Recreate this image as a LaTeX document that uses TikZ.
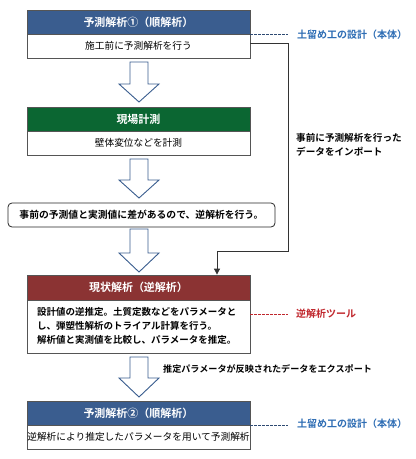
\documentclass[tikz,border=0pt]{standalone}
\usepackage{fontspec}
\setmainfont{Noto Sans CJK JP}[BoldFont={Noto Sans CJK JP Bold}]
\usetikzlibrary{arrows.meta}
\definecolor{hblue}{HTML}{3A5D8F}
\definecolor{hgreen}{HTML}{0B6632}
\definecolor{hred}{HTML}{8B3333}
\definecolor{lblue}{HTML}{2E6DB4}
\definecolor{lred}{HTML}{C0272D}
\definecolor{bordergray}{HTML}{555555}
\tikzset{
  header/.style={draw=bordergray, line width=0.8pt, minimum width=223pt, inner sep=0pt, text=white, font=\fontsize{11}{13}\selectfont\bfseries},
  bodybox/.style={draw=bordergray, line width=0.8pt, fill=white, minimum width=223pt, inner sep=0pt, font=\fontsize{9.7}{12}\selectfont},
  sidelabel/.style={anchor=west, inner sep=0pt, font=\fontsize{10}{12}\selectfont\bfseries},
  hollow/.style={draw=hblue, fill=white, line width=0.9pt, line join=miter},
  link/.style={draw=black!80, line width=0.8pt},
}
\newcommand{\bigdownarrow}[4]{% x, top, headstart, tip
  \draw[hollow] (#1-9,#2) -- (#1+9,#2) -- (#1+9,#3) -- (#1+20,#3) -- (#1,#4) -- (#1-20,#3) -- (#1-9,#3) -- cycle;}
\begin{document}
\begin{tikzpicture}[x=1pt,y=-1pt]
\useasboundingbox (0,0) rectangle (416,459);
% arrows
\bigdownarrow{139}{62}{84}{102}
\bigdownarrow{139}{159}{180}{198}
\bigdownarrow{139}{229}{253}{272}
\bigdownarrow{139}{357}{378}{397}
% box 1
\node[header, fill=hblue, minimum height=24pt] (h1) at (138.5,22) {予測解析①（順解析）};
\node[bodybox, minimum height=24pt] (b1) at (138.5,46) {施工前に予測解析を行う};
% box 2
\node[header, fill=hgreen, minimum height=24pt] (h2) at (138.5,119) {現場計測};
\node[bodybox, minimum height=24pt] (b2) at (138.5,143) {壁体変位などを計測};
% rounded box
\node[draw=black!85, line width=0.8pt, rounded corners=4pt, minimum width=267pt, minimum height=24pt, inner sep=0pt, fill=white, font=\fontsize{9.8}{12}\selectfont\bfseries] (r) at (141.5,215) {事前の予測値と実測値に差があるので、逆解析を行う。};
% box 3
\node[header, fill=hred, minimum height=25pt] (h3) at (138.5,287.5) {現状解析（逆解析）};
\node[bodybox, minimum height=53pt] (b3) at (138.5,326.5) {};
\node[anchor=west, inner sep=0pt, align=left, font=\fontsize{9.5}{14}\selectfont\bfseries] (t3) at (37,326) {設計値の逆推定。土質定数などをパラメータと\\し、弾塑性解析のトライアル計算を行う。\\解析値と実測値を比較し、パラメータを推定。};
% box 4
\node[header, fill=hblue, minimum height=24pt] (h4) at (138.5,413) {予測解析②（順解析）};
\node[bodybox, minimum height=24pt] (b4) at (138.5,437) {逆解析により推定したパラメータを用いて予測解析};
% side labels
\node[sidelabel, text=lblue] (s1) at (297,35) {土留め工の設計（本体）};
\node[sidelabel, text=lred] (s3) at (296,314) {逆解析ツール};
\node[sidelabel, text=lblue] (s4) at (297,424) {土留め工の設計（本体）};
\draw[dashed, dash pattern=on 2.5pt off 1.5pt, draw=hblue!80!black, line width=0.8pt] (h1.south east) -- ++(38,0) coordinate (d1);
\draw[dashed, dash pattern=on 2.5pt off 1.5pt, draw=lred, line width=0.8pt] (b3.east |- s3) -- ++(38,0) coordinate (d3);
\draw[dashed, dash pattern=on 2.5pt off 1.5pt, draw=hblue!80!black, line width=0.8pt] (h4.south east) -- ++(38,0) coordinate (d4);
% import connector
\node[anchor=west, inner sep=0pt, align=left, font=\fontsize{9.6}{14}\selectfont\bfseries] (imp) at (296,145) {事前に予測解析を行った\\データをインポート};
\coordinate (c1) at (288,43);
\coordinate (c2) at (288,251);
\coordinate (c3) at (217,251);
\draw[link, -{Triangle[length=6pt,width=6pt]}] (b1.east |- c1) -- (c1) -- (c2) -- (c3) -- (c3 |- h3.north);
% export label
\node[anchor=west, inner sep=0pt, font=\fontsize{9.1}{12}\selectfont\bfseries] (exp) at (163,369) {推定パラメータが反映されたデータをエクスポート};
\end{tikzpicture}
\end{document}
